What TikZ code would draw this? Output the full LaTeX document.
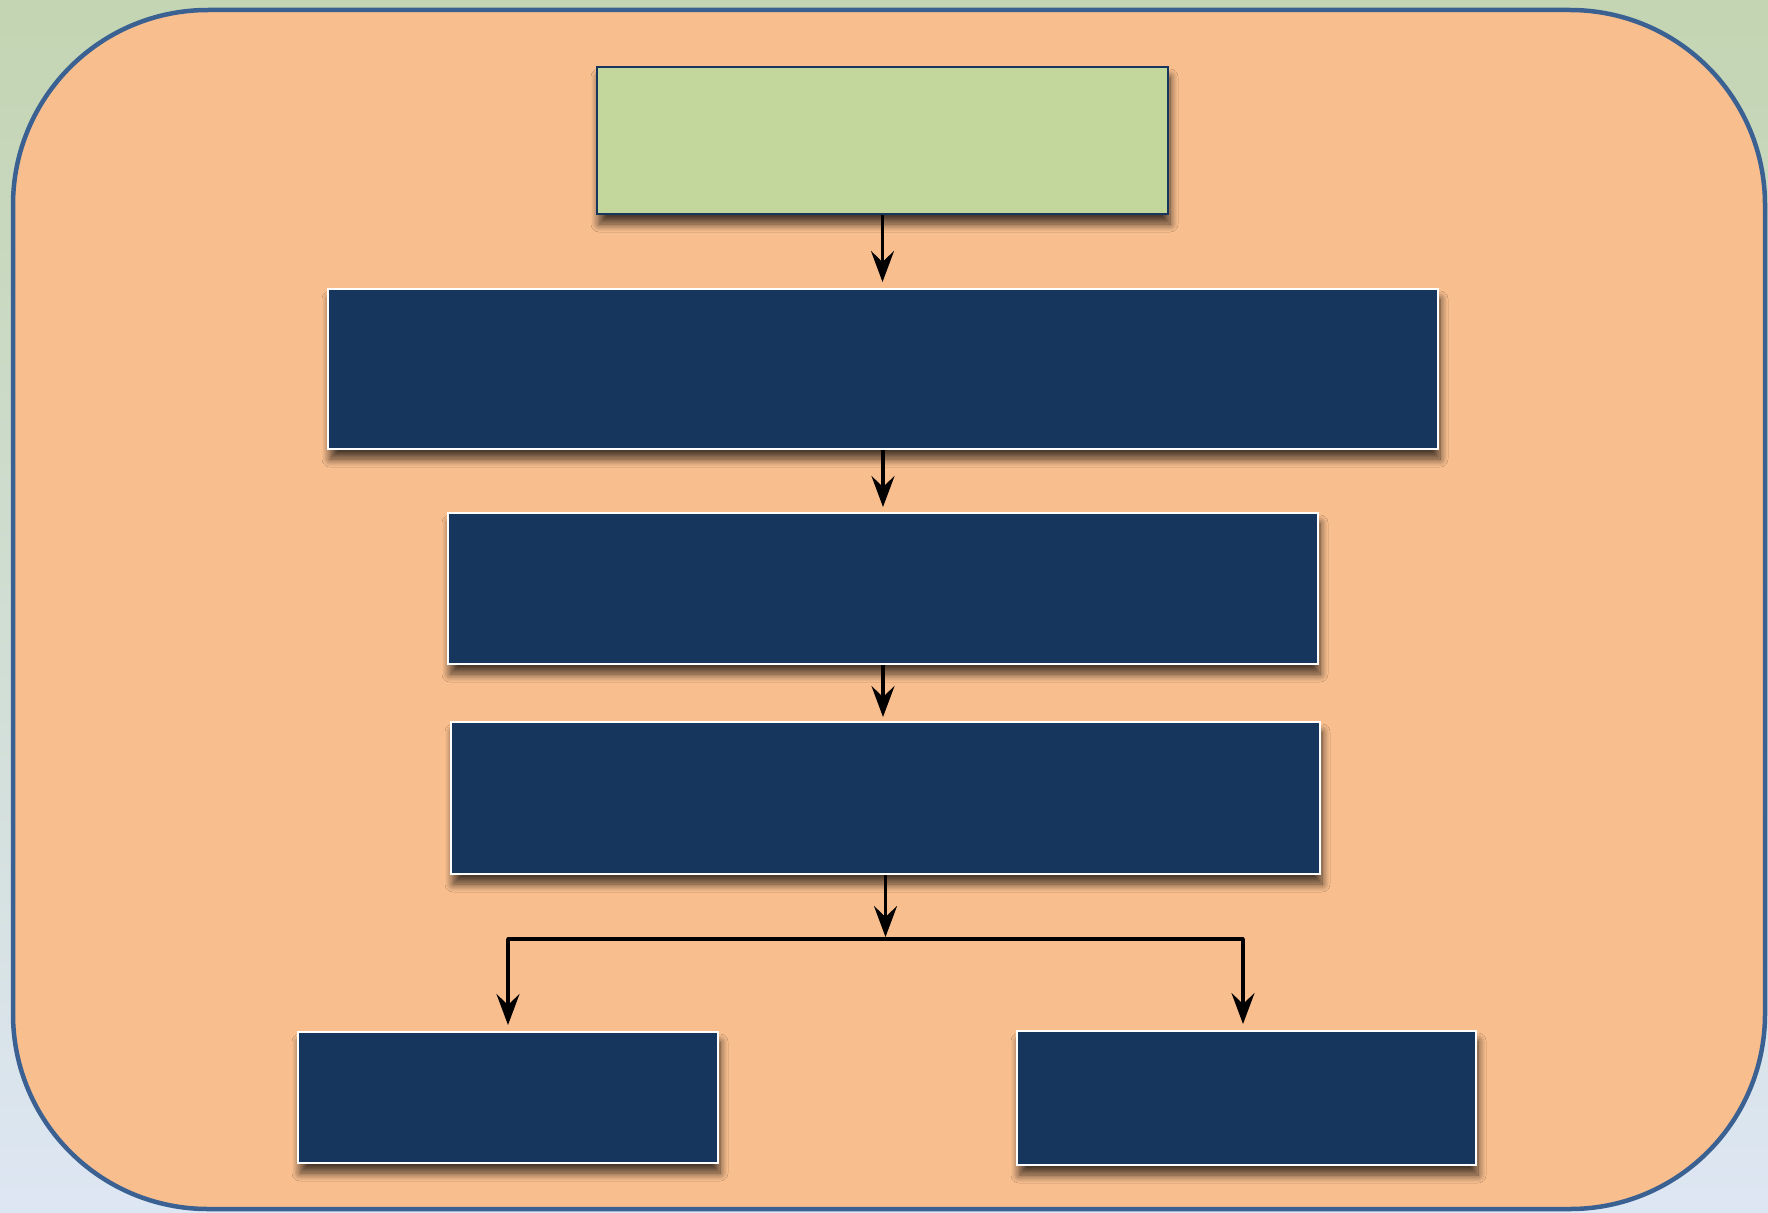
\documentclass[tikz,border=0pt]{standalone}
\usetikzlibrary{arrows.meta,shadows.blur}
\definecolor{bgtop}{HTML}{C3D5B2}
\definecolor{bgmid}{HTML}{C6D9E0}
\definecolor{bgbot}{HTML}{DDE6F3}
\definecolor{panel}{HTML}{F8BE8E}
\definecolor{panelrim}{HTML}{3B6192}
\definecolor{navy}{HTML}{17365D}
\definecolor{leaf}{HTML}{C3D69B}
\tikzset{
  x=1pt, y=-1pt,
  boxshadow/.style={blur shadow={shadow xshift=2pt, shadow yshift=-10pt, shadow blur radius=8pt, shadow blur steps=10, shadow opacity=70}},
  navybox/.style={draw=white, line width=2pt, fill=navy, inner sep=0pt, boxshadow},
  greenbox/.style={draw=navy, line width=2.2pt, fill=leaf, inner sep=0pt, boxshadow},
  flow/.style={line width=3.4pt, draw=black, -{Stealth[length=31pt,width=23pt,inset=11pt]}},
  plainline/.style={line width=3.4pt, draw=black}
}
\begin{document}
\begin{tikzpicture}
% background and frame
\useasboundingbox (0,0) rectangle (1768,1212);
\shade[top color=bgtop, middle color=bgmid, bottom color=bgbot] (0,0) rectangle (1768,1212);
\draw[line width=4.5pt, draw=panelrim, fill=panel, rounded corners=195pt] (13,10) rectangle (1765,1209);

% boxes
\node[greenbox, minimum width=571pt, minimum height=147pt] (top) at (882.5,140.5) {};
\node[navybox, minimum width=1110pt, minimum height=160pt] (b2) at (883,369) {};
\node[navybox, minimum width=870pt, minimum height=151pt] (b3) at (883,588.5) {};
\node[navybox, minimum width=869pt, minimum height=152pt] (b4) at (885.5,798) {};
\node[navybox, minimum width=420pt, minimum height=131pt] (b5) at (508,1097.5) {};
\node[navybox, minimum width=459pt, minimum height=134pt] (b6) at (1246.5,1098) {};

% branch points
\coordinate (jm) at (885.5,939);
\coordinate (jl) at (508,939);
\coordinate (jr) at (1243,939);

% connectors
\draw[flow, shorten >=6pt] (top.south) -- (top.south |- b2.north);
\draw[flow, shorten >=5pt] (b2.south) -- (b2.south |- b3.north);
\draw[flow, shorten >=4pt] (b3.south) -- (b3.south |- b4.north);
\draw[flow, shorten >=2pt] (b4.south) -- (jm);
\draw[plainline, line cap=round] (jl) -- (jr);
\draw[flow, shorten >=6pt] (jl) -- (b5.north);
\draw[flow, shorten >=6pt] (jr) -- (jr |- b6.north);
\end{tikzpicture}
\end{document}
